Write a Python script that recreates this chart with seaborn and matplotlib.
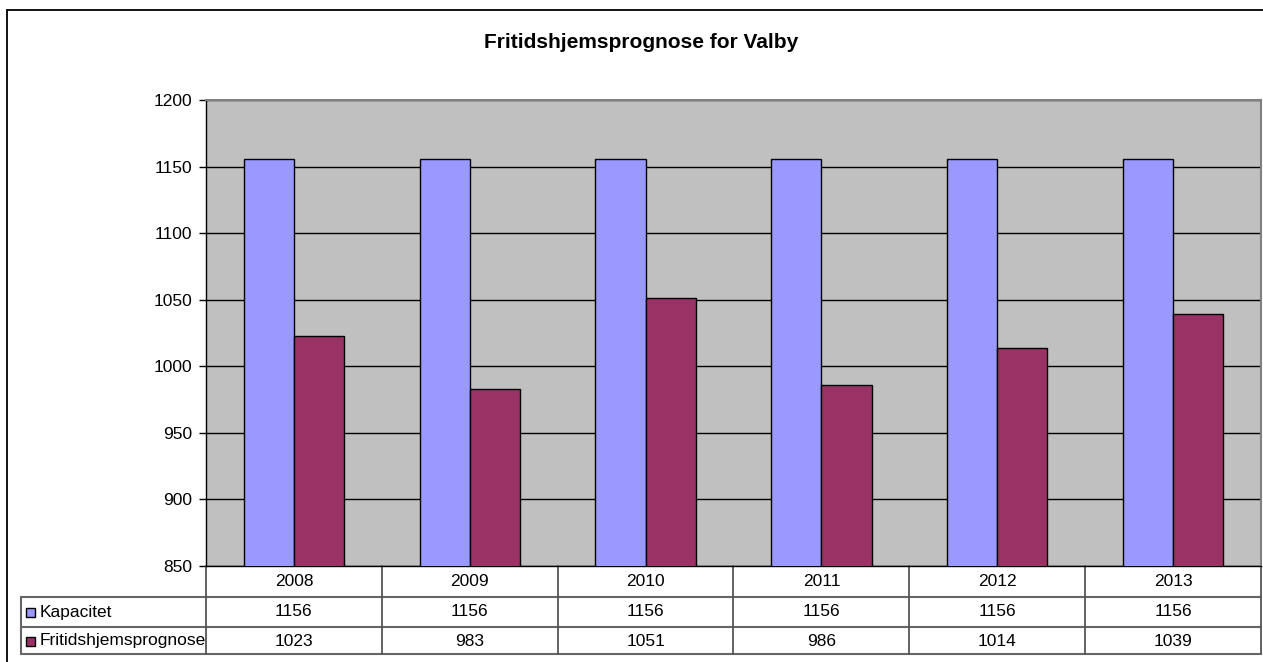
import numpy as np
import pandas as pd
import matplotlib
matplotlib.use("Agg")
import matplotlib.pyplot as plt
import matplotlib.transforms as mtransforms
from matplotlib.patches import Rectangle
import seaborn as sns

# chart data
years = ["2008", "2009", "2010", "2011", "2012", "2013"]
series_names = ["Kapacitet", "Fritidshjemsprognose"]
kapacitet = [1156, 1156, 1156, 1156, 1156, 1156]
prognose = [1023, 983, 1051, 986, 1014, 1039]
yticks = [850, 900, 950, 1000, 1050, 1100, 1150, 1200]
colors = ["#9999FF", "#993366"]

df = pd.DataFrame({
    "year": years * 2,
    "series": [series_names[0]] * len(years) + [series_names[1]] * len(years),
    "value": kapacitet + prognose,
})

sns.set_style("white")
plt.rcParams["font.family"] = ["Liberation Sans", "DejaVu Sans"]
plt.rcParams["text.color"] = "black"
plt.rcParams["ytick.color"] = "black"
plt.rcParams["xtick.color"] = "black"

W, H = 1263, 662
fs = 12.5
fig = plt.figure(figsize=(W / 100, H / 100), dpi=100)

# outer chart frame (cut off at right and bottom like the reference)
fig.patches.append(Rectangle((7 / W, -0.05), 1.2, 1 - 10 / H + 0.05,
                             transform=fig.transFigure, fill=False,
                             edgecolor="black", linewidth=1.3))

left, right, top, bottom = 206, 1261, 100, 566
ax = fig.add_axes([left / W, 1 - bottom / H, (right - left) / W, (bottom - top) / H])
ax.set_facecolor("#C0C0C0")

sns.barplot(data=df, x="year", y="value", hue="series", palette=colors,
            width=0.57, edgecolor="black", linewidth=1.0, ax=ax,
            legend=False, zorder=3, saturation=1)

ax.set_ylim(850, 1200)
ax.set_xlim(-0.5, len(years) - 0.5)
ax.set_yticks(yticks)
ax.set_yticklabels([str(t) for t in yticks], fontsize=fs, color="black")
ax.yaxis.grid(True, color="black", linewidth=1.0, zorder=0)
ax.set_axisbelow(True)
ax.tick_params(axis="y", left=True, length=5, width=1, color="black", pad=5)
ax.tick_params(axis="x", bottom=False, labelbottom=False)
ax.set_xlabel("")
ax.set_ylabel("")
for side in ["top", "right"]:
    ax.spines[side].set_color("#808080")
    ax.spines[side].set_linewidth(1.5)
for side in ["left", "bottom"]:
    ax.spines[side].set_color("black")
    ax.spines[side].set_linewidth(1.0)

# data table below the plot
ax_h = bottom - top
def ya(px):
    return -(px - bottom) / ax_h

trans = mtransforms.blended_transform_factory(ax.transData, ax.transAxes)
x_lab = -0.5 - (left - 21) / ((right - left) / len(years))
row_lines = [597, 627, 654]
line_col = "#666666"
for py in row_lines:
    ax.plot([x_lab, len(years) - 0.5], [ya(py), ya(py)], transform=trans,
            color=line_col, linewidth=1.5, clip_on=False)
for k in range(len(years) + 1):
    ax.plot([k - 0.5, k - 0.5], [0, ya(654)], transform=trans,
            color="#555555", linewidth=1.3, clip_on=False)
ax.plot([x_lab, x_lab], [ya(597), ya(654)], transform=trans,
        color=line_col, linewidth=1.5, clip_on=False)

for i, y in enumerate(years):
    ax.text(i, ya(581.5), y, transform=trans, ha="center", va="center", fontsize=fs)
    ax.text(i, ya(612), str(kapacitet[i]), transform=trans, ha="center", va="center", fontsize=fs)
    ax.text(i, ya(641), str(prognose[i]), transform=trans, ha="center", va="center", fontsize=fs)

for name, col, py in zip(series_names, colors, [612, 641]):
    fig.patches.append(Rectangle((26 / W, 1 - (py + 4.5) / H), 9 / W, 9 / H,
                                 transform=fig.transFigure, facecolor=col,
                                 edgecolor="black", linewidth=1.0))
    fig.text(40 / W, 1 - py / H, name, ha="left", va="center", fontsize=fs)

fig.text(641 / W, 1 - 43 / H, "Fritidshjemsprognose for Valby",
         ha="center", va="center", fontsize=15, fontweight="bold", color="black")

fig.savefig("out.png", dpi=100)
